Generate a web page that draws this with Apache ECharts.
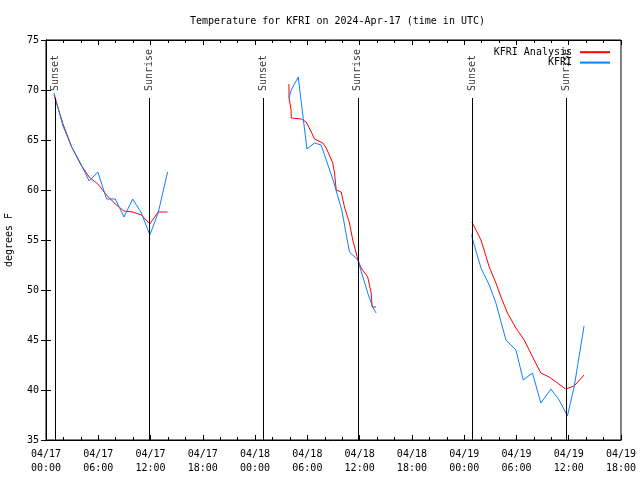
<!DOCTYPE html>
<html>
<head>
<meta charset="utf-8">
<script src="https://cdn.jsdelivr.net/npm/echarts@6/dist/echarts.min.js"></script>
<style>
html,body{margin:0;padding:0;background:#fff;}
#chart{width:640px;height:480px;}
</style>
</head>
<body>
<div id="chart"></div>
<script>
// x values are hours since 2024-04-17 00:00 UTC
const xTickLabels = ['04/17\n00:00','04/17\n06:00','04/17\n12:00','04/17\n18:00','04/18\n00:00','04/18\n06:00','04/18\n12:00','04/18\n18:00','04/19\n00:00','04/19\n06:00','04/19\n12:00','04/19\n18:00'];

// KFRI Analysis (red)
const anaHours1 = [0.92,1.95,2.95,3.95,4.95,5.95,6.95,7.95,8.95,9.95,10.95,11.92,12.87,13.95];
const anaTemps1 = [69.5,66.6,64.3,62.6,61.3,60.6,59.5,58.6,57.9,57.8,57.5,56.6,57.8,57.8];
const anaHours2 = [27.88,27.9,28.13,28.15,29.30,29.87,30.45,30.82,31.78,32.16,32.92,33.12,33.31,33.88,34.26,34.83,35.21,35.60,35.79,36.17,36.93,37.32,37.44,37.89];
const anaTemps2 = [70.6,69.2,68.0,67.2,67.1,66.8,65.8,65.1,64.7,64.2,62.7,61.7,60.0,59.8,58.3,56.7,55.0,53.7,53.0,52.2,51.3,49.7,48.3,48.3];
const anaHours3 = [48.89,49.35,49.93,50.88,51.64,52.22,52.97,53.94,54.89,56.03,56.8,57.75,58.7,59.66,60.62,61.76];
const anaTemps3 = [56.8,56.0,55.0,52.3,50.7,49.3,47.7,46.2,45.0,43.0,41.7,41.3,40.7,40.1,40.4,41.5];

// KFRI observations (blue)
const obsHours1 = [0.92,1.95,2.95,3.95,4.95,5.95,6.95,7.95,8.95,9.95,10.95,11.92,12.87,13.95];
const obsTemps1 = [69.7,66.4,64.3,62.7,60.9,61.8,59.1,59.1,57.3,59.1,57.7,55.5,57.7,61.8];
const obsHours2 = [27.88,28.15,28.95,29.95,30.82,31.59,31.97,32.95,33.95,34.83,35.79,36.93,37.5,37.89];
const obsTemps2 = [69.2,70.0,71.3,64.1,64.7,64.5,63.5,61.0,58.0,53.8,53.0,49.7,48.3,47.7];
const obsHours3 = [48.89,48.92,49.93,50.88,51.64,52.79,53.94,54.78,55.84,56.8,57.95,58.9,59.85,60.62,61.76];
const obsTemps3 = [55.6,55.2,52.2,50.5,48.7,45.0,44.0,41.0,41.7,38.7,40.1,39.0,37.4,40.3,46.4];

// Sun events
const sunHours = [1.03,11.84,24.98,35.8,48.93,59.77];
const sunNames = ['Sunset','Sunrise','Sunset','Sunrise','Sunset','Sunrise'];
const sunLineTop = 69.2;
const sunLabelAt = 69.8;

const FONT = 'DejaVu Sans Mono';
const zip = (xs, ys) => xs.map((x, i) => [x, ys[i]]);

function lineSeries(name, color, xs, ys) {
  return {
    name: name, type: 'line', data: zip(xs, ys),
    symbol: 'none', showSymbol: false,
    lineStyle: { color: color, width: 1 }, itemStyle: { color: color },
    xAxisIndex: 0, yAxisIndex: 0, animation: false, silent: true, z: 3
  };
}

const RED = '#ff0000', BLUE = '#0a80ff';
const series = [
  lineSeries('KFRI Analysis', RED, anaHours1, anaTemps1),
  lineSeries('KFRI Analysis', RED, anaHours2, anaTemps2),
  lineSeries('KFRI Analysis', RED, anaHours3, anaTemps3),
  lineSeries('KFRI', BLUE, obsHours1, obsTemps1),
  lineSeries('KFRI', BLUE, obsHours2, obsTemps2),
  lineSeries('KFRI', BLUE, obsHours3, obsTemps3),
  {
    name: 'sun', type: 'scatter', xAxisIndex: 0, yAxisIndex: 0,
    data: sunHours.map((h, i) => ({ value: [h, sunLabelAt], name: sunNames[i] })),
    symbol: 'circle', symbolSize: 0.1, itemStyle: { color: 'rgba(0,0,0,0)' },
    label: {
      show: true, position: 'inside', formatter: p => p.name,
      rotate: 90, align: 'left', verticalAlign: 'middle',
      color: '#000', fontFamily: FONT, fontSize: 10, offset: [1, 0]
    },
    markLine: {
      silent: true, symbol: ['none', 'none'], animation: false,
      label: { show: false },
      lineStyle: { color: '#000', width: 1, type: 'solid' },
      data: sunHours.map(h => [{ coord: [h, 35] }, { coord: [h, sunLineTop] }])
    },
    animation: false, silent: true, z: 2
  }
];

const tickCommon = { inside: true, length: 5, lineStyle: { color: '#000', width: 1 } };
const minorCommon = { show: true, splitNumber: 3, length: 3, lineStyle: { color: '#000', width: 1 } };

const option = {
  backgroundColor: '#fff',
  animation: false,
  title: {
    text: 'Temperature for KFRI on 2024-Apr-17 (time in UTC)',
    left: 185, top: 11,
    textStyle: { fontFamily: FONT, fontSize: 10, fontWeight: 'normal', color: '#000' }
  },
  legend: {
    data: ['KFRI Analysis', 'KFRI'],
    orient: 'vertical', right: 24, top: 42, align: 'right',
    itemWidth: 30, itemHeight: 13, itemGap: 0,
    itemStyle: { opacity: 0 },
    textStyle: { fontFamily: FONT, fontSize: 10, color: '#000', padding: [0, 3, 0, 0] },
    selectedMode: false
  },
  grid: { left: 46, right: 19, top: 40, bottom: 40, containLabel: false, outerBoundsMode: 'none', show: true, borderColor: '#000', borderWidth: 1, backgroundColor: 'transparent' },
  xAxis: [
    {
      type: 'value', min: 0, max: 66, interval: 6, position: 'bottom',
      axisLine: { show: true, lineStyle: { color: '#000', width: 1 } },
      axisTick: tickCommon, minorTick: minorCommon,
      splitLine: { show: false },
      axisLabel: {
        formatter: v => xTickLabels[Math.round(v / 6)],
        fontFamily: FONT, fontSize: 10, color: '#000', margin: 7, lineHeight: 14
      }
    },
    {
      type: 'value', min: 0, max: 66, interval: 6, position: 'top',
      axisLine: { show: true, lineStyle: { color: '#000', width: 1 } },
      axisTick: tickCommon, minorTick: minorCommon,
      splitLine: { show: false }, axisLabel: { show: false }
    }
  ],
  yAxis: [
    {
      type: 'value', min: 35, max: 75, interval: 5, position: 'left',
      name: 'degrees F', nameLocation: 'middle', nameRotate: 90, nameGap: 32,
      nameTextStyle: { fontFamily: FONT, fontSize: 10, color: '#000' },
      axisLine: { show: true, lineStyle: { color: '#000', width: 1 } },
      axisTick: tickCommon,
      splitLine: { show: false },
      axisLabel: { fontFamily: FONT, fontSize: 10, color: '#000', margin: 7 }
    },
    {
      type: 'value', min: 35, max: 75, interval: 5, position: 'right',
      axisLine: { show: true, lineStyle: { color: '#000', width: 1 } },
      axisTick: tickCommon,
      splitLine: { show: false }, axisLabel: { show: false }
    }
  ],
  series: series
};

const chart = echarts.init(document.getElementById('chart'), null, { renderer: 'canvas' });
chart.setOption(option);
</script>
</body>
</html>
